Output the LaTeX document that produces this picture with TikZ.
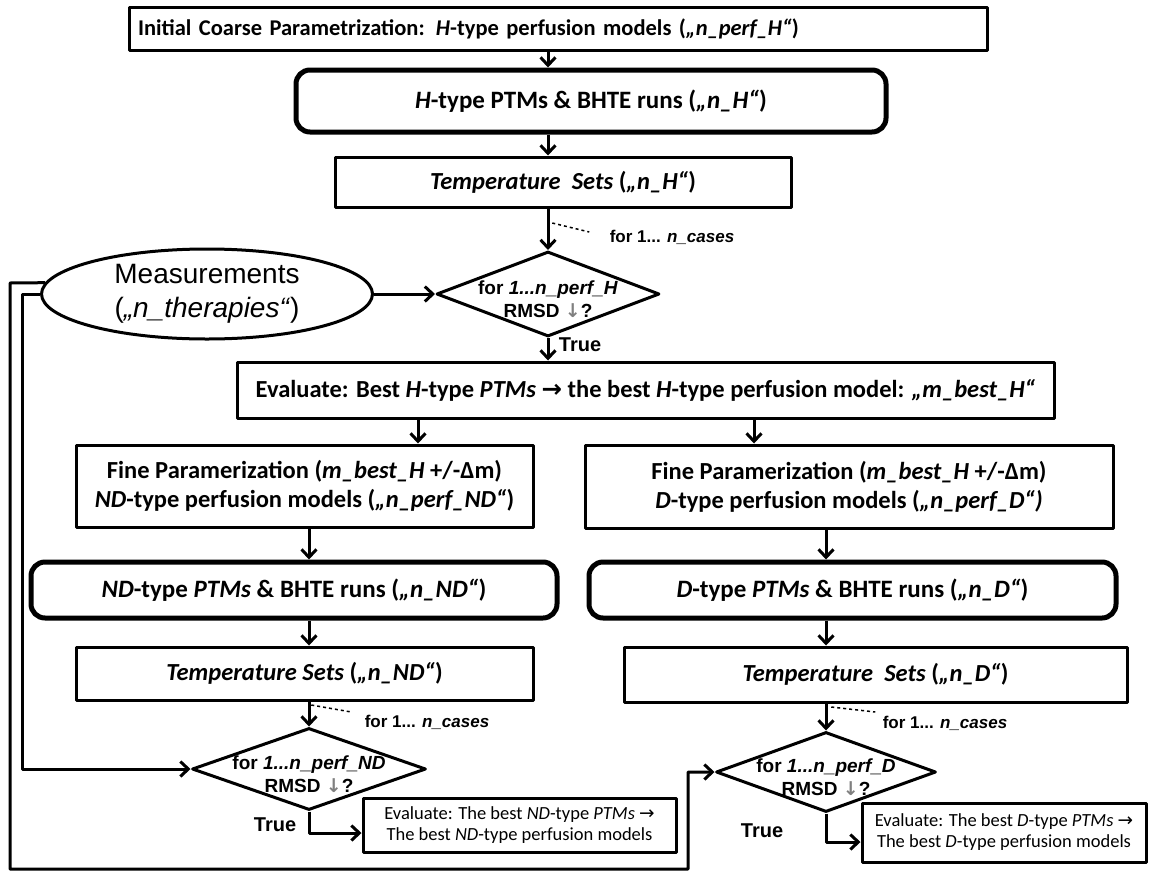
\documentclass[tikz,border=0pt]{standalone}
\usepackage{fontspec}
\setmainfont{Carlito}
\newfontfamily\arialfont{Liberation Sans}
\newfontfamily\symfont{DejaVu Sans}
\usetikzlibrary{shapes.geometric,arrows.meta}

\begin{document}
\begin{tikzpicture}[x=1pt,y=-1pt,line join=round,>={Straight Barb[length=8pt,width=15pt]}]
	\tikzset{box/.style={draw,line width=3pt,inner sep=0pt,align=center,font=\bfseries\fontsize{24.5}{29}\selectfont},
		rbox/.style={box,line width=5pt,rounded corners=14pt,font=\bfseries\fontsize{25}{30}\selectfont},
		dia/.style={diamond,draw,line width=3pt,inner sep=0pt},
		diatext/.style={align=center,yshift=-5pt,font=\arialfont\bfseries\fontsize{19}{23}\selectfont},
		smallbox/.style={draw,line width=3pt,inner sep=0pt,align=center,font=\fontsize{18.5}{21}\selectfont},
		lab/.style={font=\arialfont\bfseries\fontsize{17}{20}\selectfont},
		truelab/.style={font=\arialfont\bfseries\fontsize{20}{22}\selectfont},
		flow/.style={->,line width=3pt}}
	\useasboundingbox (0,0) rectangle (1150,873);
	\coordinate (colH) at (548,0);
	\coordinate (colND) at (309,0);
	\coordinate (colD) at (826,0);
	\coordinate (evL) at (418,0);
	\coordinate (evR) at (754,0);
	% H-type branch
	\node[box,minimum width=858pt,minimum height=43pt,text width=840pt,align=left,font=\bfseries\fontsize{22.5}{26}\selectfont] (init) at (558,28.5) {Initial Coarse Parametrization: \textit{H}-type perfusion models (\textit{„n\_perf\_H“})};
	\node[rbox,minimum width=590pt,minimum height=62pt] (hruns) at (591,101) {\textit{H}-type PTMs \& BHTE runs (\textit{„n\_H“})};
	\node[box,minimum width=456pt,minimum height=50pt] (tH) at (563,182) {\textit{Temperature\ \ Sets} (\textit{„n\_H“})};
	\node[dia,minimum width=223pt,minimum height=85pt,label={[diatext]center:for \textit{1...n\_perf\_H}\\RMSD \textcolor{gray}{\symfont ↓}?}] (dH) at (548,294) {};
	\node[ellipse,draw,line width=3pt,minimum width=331pt,minimum height=90pt,inner sep=0pt,align=center,font=\arialfont\fontsize{28}{34}\selectfont] (meas) at (207,294) {Measurements\\(\textit{„n\_therapies“})};
	\node[lab] (casesH) at (672,237) {for 1... \textit{n\_cases}};
	\node[truelab] (trueH) at (580,345) {True};
	\node[box,minimum width=817pt,minimum height=56pt] (evH) at (645.5,390) {Evaluate: Best \textit{H}-type \textit{PTMs} {\symfont →} the best \textit{H}-type perfusion model: \textit{„m\_best\_H“}};
	% ND and D branches
	\node[box,minimum width=457pt,minimum height=82pt] (fND) at (304.5,486) {Fine Paramerization (\textit{m\_best\_H} +/-Δm)\\\textit{ND}-type perfusion models (\textit{„n\_perf\_ND“})};
	\node[box,minimum width=528pt,minimum height=83pt] (fD) at (849,486.5) {Fine Paramerization (\textit{m\_best\_H} +/-Δm)\\\textit{D}-type perfusion models (\textit{„n\_perf\_D“)}};
	\node[rbox,minimum width=526pt,minimum height=56pt] (rND) at (294,590) {\textit{ND}-type \textit{PTMs} \& BHTE runs (\textit{„n\_ND“})};
	\node[rbox,minimum width=527pt,minimum height=56pt] (rD) at (852.5,590) {\textit{D}-type \textit{PTMs} \& BHTE runs (\textit{„n\_D“})};
	\node[box,minimum width=457pt,minimum height=53pt] (tND) at (304.5,673.5) {\textit{Temperature Sets} (\textit{„n\_ND“})};
	\node[box,minimum width=503pt,minimum height=55pt] (tD) at (875.5,674.5) {\textit{Temperature\ \ Sets} (\textit{„n\_D“})};
	\node[lab] (casesND) at (427,722) {for 1... \textit{n\_cases}};
	\node[lab] (casesD) at (945,723) {for 1... \textit{n\_cases}};
	\node[dia,minimum width=234pt,minimum height=82pt,label={[diatext]center:for \textit{1...n\_perf\_ND}\\RMSD \textcolor{gray}{\symfont ↓}?}] (dND) at (309,769) {};
	\node[dia,minimum width=220pt,minimum height=80pt,label={[diatext]center:for \textit{1...n\_perf\_D}\\RMSD \textcolor{gray}{\symfont ↓}?}] (dD) at (826,772) {};
	\node[truelab] (trueND) at (275,825) {True};
	\node[truelab] (trueD) at (762,831) {True};
	\node[smallbox,minimum width=313pt,minimum height=54pt] (evND) at (519.5,825) {Evaluate: The best \textit{ND}-type \textit{PTMs} {\symfont →}\\The best \textit{ND}-type perfusion models};
	\node[smallbox,minimum width=284pt,minimum height=59pt] (evD) at (1004,832.5) {Evaluate: The best \textit{D}-type \textit{PTMs} {\symfont →}\\The best \textit{D}-type perfusion models};
	% connectors
	\draw[flow] (init.south -| colH) -- (hruns.north -| colH);
	\draw[flow] (hruns.south -| colH) -- (tH.north -| colH);
	\draw[flow] (tH.south -| colH) -- (dH.north);
	\draw[dashed,line width=1.5pt] (casesH.west) ++(-54,-14) -- ++(37,9);
	\draw[flow] (meas.east) -- (dH.west);
	\draw[flow] (dH.south) -- (evH.north -| colH);
	\draw[flow] (evH.south -| evL) -- (fND.north -| evL);
	\draw[flow] (evH.south -| evR) -- (fD.north -| evR);
	\draw[flow] (fND.south -| colND) -- (rND.north -| colND);
	\draw[flow] (fD.south -| colD) -- (rD.north -| colD);
	\draw[flow] (rND.south -| colND) -- (tND.north -| colND);
	\draw[flow] (rD.south -| colD) -- (tD.north -| colD);
	\draw[flow] (tND.south -| colND) -- (dND.north);
	\draw[flow] (tD.south -| colD) -- (dD.north);
	\draw[dashed,line width=1.5pt] (casesND.west) ++(-50,-17) -- ++(40,7);
	\draw[dashed,line width=1.5pt] (casesD.west) ++(-48,-16) -- ++(44,5);
	\draw[flow] (dND.south) |- ([yshift=-8pt]evND.west);
	\draw[flow] (dD.south) |- ([yshift=-9.5pt]evD.west);
	\draw[flow] (meas.west) -- (22,294) |- (dND.west);
	\draw[flow] (meas.176) -- (10,283) |- (688,869) |- (dD.west);
\end{tikzpicture}
\end{document}
